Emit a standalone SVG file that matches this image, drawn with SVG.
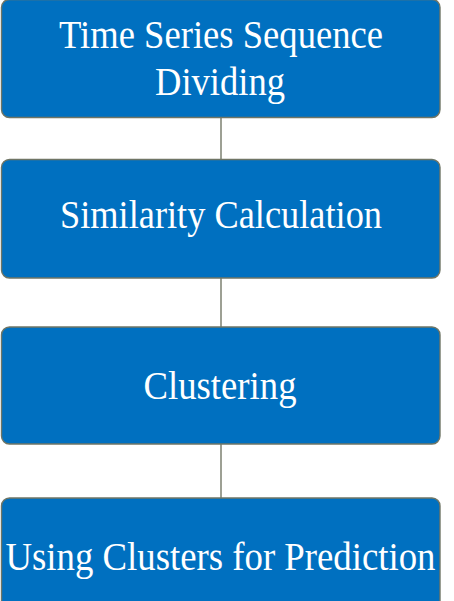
<svg xmlns="http://www.w3.org/2000/svg" width="454" height="601" viewBox="0 0 454 601">
<style>
.box{fill:#0070C0;stroke:#6f7565;stroke-width:1.4}
.lbl{font-family:"Liberation Serif","Times New Roman",serif;font-size:39px;fill:#ffffff;text-anchor:middle}
.conn{stroke:#7d8070;stroke-width:1.5;fill:none}
</style>
<rect width="454" height="601" fill="#ffffff"/>
<g id="connectors">
<line class="conn" x1="221" y1="118" x2="221" y2="159"/>
<line class="conn" x1="221" y1="278" x2="221" y2="327"/>
<line class="conn" x1="221" y1="444" x2="221" y2="498"/>
</g>
<g id="node1">
<rect class="box" x="1.5" y="-0.5" width="438.5" height="118" rx="8"/>
<text class="lbl" x="221" y="47.5" textLength="324" lengthAdjust="spacingAndGlyphs">Time Series Sequence</text>
<text class="lbl" x="220" y="95" textLength="130" lengthAdjust="spacingAndGlyphs">Dividing</text>
</g>
<g id="node2">
<rect class="box" x="1.5" y="159.5" width="438.5" height="118.5" rx="8"/>
<text class="lbl" x="221" y="227.5" textLength="322" lengthAdjust="spacingAndGlyphs">Similarity Calculation</text>
</g>
<g id="node3">
<rect class="box" x="1.5" y="327" width="438.5" height="117" rx="8"/>
<text class="lbl" x="220" y="398.5" textLength="153" lengthAdjust="spacingAndGlyphs">Clustering</text>
</g>
<g id="node4">
<rect class="box" x="1.5" y="498" width="438.5" height="118" rx="8"/>
<text class="lbl" x="220.5" y="569.5" textLength="430" lengthAdjust="spacingAndGlyphs">Using Clusters for Prediction</text>
</g>
</svg>
